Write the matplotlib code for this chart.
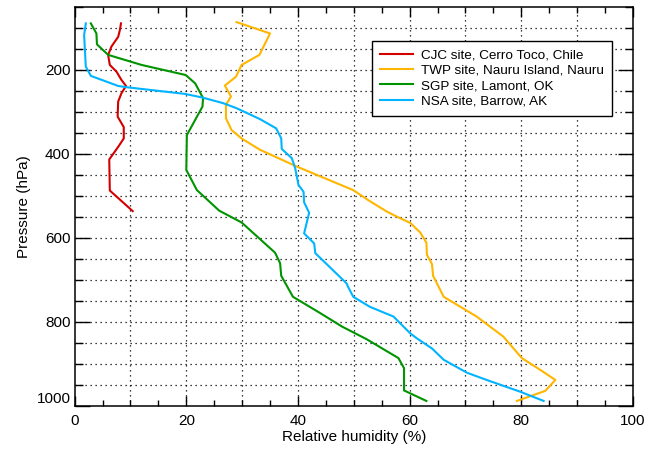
import matplotlib.pyplot as plt
from matplotlib.ticker import MultipleLocator

plt.rcParams['font.family'] = ['Liberation Sans', 'DejaVu Sans']

# CJC site, Cerro Toco, Chile
cjc_p = [89, 105, 121, 144, 164, 188, 204, 224, 238, 255, 275, 311, 336, 363, 383, 413, 487, 536]
cjc_rh = [8.3, 8.1, 7.8, 6.6, 6.0, 6.3, 7.5, 8.4, 9.2, 8.4, 7.8, 7.7, 8.8, 8.8, 7.8, 6.2, 6.3, 10.4]

# TWP site, Nauru Island, Nauru
twp_p = [86, 113, 164, 188, 216, 237, 263, 283, 315, 343, 363, 390, 430, 466, 486, 510, 537, 553,
         564, 587, 611, 640, 662, 690, 740, 787, 835, 886, 914, 938, 964, 988]
twp_rh = [29.0, 35.0, 33.1, 29.9, 28.9, 26.9, 28.0, 27.1, 27.1, 28.1, 29.9, 33.2, 39.8, 46.3, 49.9, 52.6, 55.9, 58.3,
          60.1, 61.9, 63.0, 63.1, 64.0, 64.2, 66.1, 72.0, 76.8, 80.1, 83.4, 86.1, 84.3, 79.2]

# SGP site, Lamont, OK
sgp_p = [89, 113, 139, 164, 188, 212, 232, 267, 287, 355, 438, 486, 535, 563, 635, 660, 690, 740,
         779, 811, 841, 886, 910, 963, 988]
sgp_rh = [2.9, 3.9, 4.0, 6.0, 12.0, 19.9, 21.6, 23.0, 22.9, 20.1, 20.0, 21.9, 25.9, 29.9, 35.9, 36.8, 37.0, 39.1,
          44.0, 47.9, 52.3, 58.0, 59.0, 59.0, 63.0]

# NSA site, Barrow, AK
nsa_p = [89, 117, 192, 214, 238, 241, 257, 266, 279, 291, 317, 339, 363, 388, 410, 434, 474, 490,
         515, 540, 589, 613, 636, 708, 717, 740, 764, 787, 827, 839, 863, 890, 921, 938, 966, 988]
nsa_rh = [2.0, 1.7, 2.0, 2.9, 7.8, 9.3, 19.8, 23.0, 26.6, 29.0, 33.2, 36.1, 37.0, 37.1, 38.9, 39.5, 40.1, 41.0,
          41.1, 42.0, 41.1, 42.9, 43.1, 48.7, 49.0, 49.9, 52.9, 57.1, 60.1, 61.3, 64.0, 66.1, 70.3, 73.8, 79.8, 84.0]

fig = plt.figure(figsize=(6.49, 4.51), dpi=100)
ax = fig.add_axes([0.115, 0.0998, 0.8603, 0.8847])

ax.plot(cjc_rh, cjc_p, color='#d40000', linewidth=1.5, label='CJC site, Cerro Toco, Chile')
ax.plot(twp_rh, twp_p, color='#ffb600', linewidth=1.5, label='TWP site, Nauru Island, Nauru')
ax.plot(sgp_rh, sgp_p, color='#009400', linewidth=1.5, label='SGP site, Lamont, OK')
ax.plot(nsa_rh, nsa_p, color='#00b4ff', linewidth=1.5, label='NSA site, Barrow, AK')

ax.set_xlim(0, 100)
ax.set_ylim(1000, 50)

# grid lines (dotted) every 10 % and every 50 hPa
for gx in range(10, 100, 10):
    ax.axvline(gx, color='black', linestyle=(0, (1, 3)), linewidth=0.9, zorder=0)
for gy in range(100, 1000, 50):
    ax.axhline(gy, color='black', linestyle=(0, (1, 3)), linewidth=0.9, zorder=0)

ax.xaxis.set_major_locator(MultipleLocator(20))
ax.xaxis.set_minor_locator(MultipleLocator(5))
ax.set_yticks([200, 400, 600, 800, 1000])
ax.yaxis.set_minor_locator(MultipleLocator(50))
ax.tick_params(which='both', direction='in', top=True, right=True, labelsize=11, width=1)
ax.tick_params(axis='x', which='major', length=7, pad=6)
ax.tick_params(axis='x', which='minor', length=4)
ax.tick_params(axis='y', which='major', length=11, pad=3)
ax.tick_params(axis='y', which='minor', length=6)
for s in ax.spines.values():
    s.set_linewidth(1.1)

fig.canvas.draw()
ylabels = ax.get_yticklabels()
ylabels[-1].set_verticalalignment('bottom')

ax.set_xlabel('Relative humidity (%)', fontsize=11, labelpad=1)
ax.set_ylabel('Pressure (hPa)', fontsize=11, labelpad=4)

leg = ax.legend(loc='upper right', bbox_to_anchor=(0.963, 0.915), borderaxespad=0,
                fontsize=9.7, frameon=True, fancybox=False, edgecolor='black', framealpha=1,
                handlelength=2.45, borderpad=0.6, labelspacing=0.22, handletextpad=0.65)
leg.get_frame().set_linewidth(1.0)

fig.savefig('out.png', dpi=100)
